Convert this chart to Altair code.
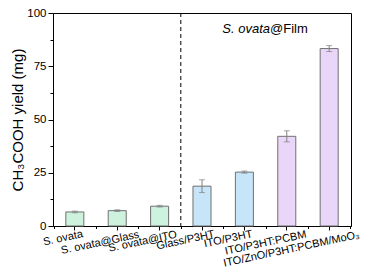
import altair as alt
import pandas as pd

# ---- data ----
categories = ["S. ovata", "S. ovata@Glass", "S. ovata@ITO", "Glass/P3HT",
              "ITO/P3HT", "ITO/P3HT:PCBM", "ITO/ZnO/P3HT:PCBM/MoO\u2083"]
yields = [6.6, 7.2, 9.3, 18.7, 25.3, 42.1, 83.3]
errors = [0.4, 0.4, 0.4, 3.0, 0.5, 2.6, 1.4]
groups = ["ctrl", "ctrl", "ctrl", "p3ht", "p3ht", "pcbm", "pcbm"]
group_order = ["ctrl", "p3ht", "pcbm"]
group_colors = ["#cdf3df", "#c6e5f9", "#e9d6f9"]
y_ticks = [0, 25, 50, 75, 100]
y_minor = [12.5, 37.5, 62.5, 87.5]
title_italic = ["S. ovata"]
title_plain = ["@Film"]
separator_before = ["Glass/P3HT"]

FONT = "Liberation Sans"
W, H = 298, 213

df = pd.DataFrame({"cat": categories, "val": yields, "err": errors, "grp": groups})

xscale = alt.Scale(domain=categories, paddingInner=0, paddingOuter=0.015)
yscale = alt.Scale(domain=[0, 100], nice=False, zero=True)

base = alt.Chart(df).transform_calculate(
    lo="datum.val - datum.err", hi="datum.val + datum.err"
)

bars = base.mark_bar(width=alt.RelativeBandSize(0.425), stroke="#707070", strokeWidth=1).encode(
    x=alt.X("cat:N", scale=xscale, sort=categories,
            axis=alt.Axis(orient="bottom", labels=False, title=None, tickSize=4,
                          domainColor="black", tickColor="black")),
    y=alt.Y("val:Q", scale=yscale,
            axis=alt.Axis(orient="left", values=y_ticks, tickSize=5, labelFontSize=11.5,
                          labelPadding=2, title="CH\u2083COOH yield (mg)", titleFontSize=15,
                          titleFontWeight="normal", titlePadding=1)),
    color=alt.Color("grp:N", scale=alt.Scale(domain=group_order, range=group_colors), legend=None),
)

err_rule = base.mark_rule(color="#808080", strokeWidth=1).encode(
    x=alt.X("cat:N", scale=xscale, sort=categories,
            axis=alt.Axis(orient="bottom", labels=False, title=None, tickSize=2.5,
                          tickBand="extent", domain=False, tickColor="black")),
    y=alt.Y("lo:Q", scale=yscale,
            axis=alt.Axis(orient="left", values=y_minor, labels=False, tickSize=3,
                          domain=False, title=None, tickColor="black")),
    y2="hi:Q",
)

cap_lo = base.mark_tick(size=6, thickness=1, color="#808080").encode(
    x=alt.X("cat:N", scale=xscale, sort=categories, axis=None),
    y=alt.Y("lo:Q", scale=yscale, axis=None),
)
cap_hi = base.mark_tick(size=6, thickness=1, color="#808080").encode(
    x=alt.X("cat:N", scale=xscale, sort=categories, axis=None),
    y=alt.Y("hi:Q", scale=yscale, axis=None),
)

sep = alt.Chart(pd.DataFrame({"cat": separator_before})).mark_rule(
    color="black", strokeDash=[4, 3], strokeWidth=1
).encode(
    x=alt.X("cat:N", scale=xscale, sort=categories, bandPosition=0, axis=None),
    y=alt.value(0), y2=alt.value(H),
)

labels = alt.Chart(df).mark_text(
    angle=348, align="right", baseline="top", fontSize=11, font=FONT, color="black",
    dx=alt.ExprRef(expr="min(max(2.25*length(datum.cat) - 11.5, 5), 28)"),
    dy=alt.ExprRef(expr="0.25*min(max(2.25*length(datum.cat) - 11.5, 5), 28)"),
).encode(
    x=alt.X("cat:N", scale=xscale, sort=categories, axis=None),
    y=alt.value(H + 2),
    text="cat:N",
)

t1 = alt.Chart(pd.DataFrame({"t": title_italic})).mark_text(
    align="right", baseline="alphabetic", fontSize=13, fontStyle="italic", font=FONT, color="black"
).encode(text="t:N", x=alt.value(217), y=alt.value(20))
t2 = alt.Chart(pd.DataFrame({"t": title_plain})).mark_text(
    align="left", baseline="alphabetic", fontSize=13, font=FONT, color="black"
).encode(text="t:N", x=alt.value(217), y=alt.value(20))

chart = alt.layer(bars, err_rule, cap_lo, cap_hi, sep, labels, t1, t2).resolve_axis(
    x="independent", y="independent"
).properties(
    width=W, height=H,
    autosize=alt.AutoSizeParams(type="none"),
    padding={"left": 45, "top": 5, "right": 11, "bottom": 46},
).configure_view(stroke="black", strokeWidth=1).configure_axis(
    grid=False, labelFont=FONT, titleFont=FONT, labelColor="black", titleColor="black",
    domainColor="black", tickColor="black",
)

chart.save("out.html", embed_options={"renderer": "svg", "actions": False})
